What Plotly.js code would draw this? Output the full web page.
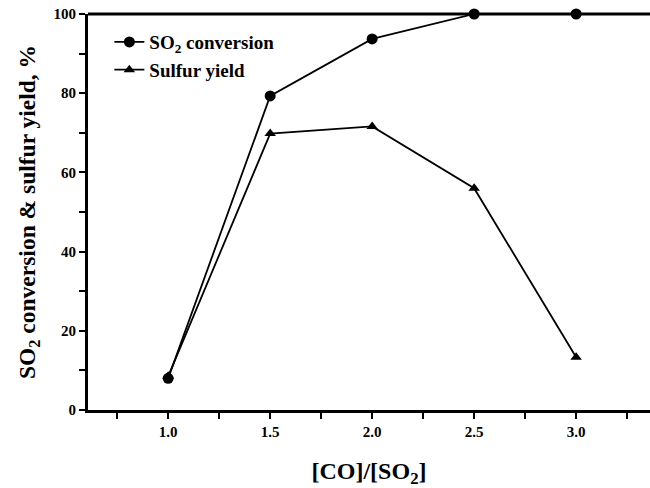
<!DOCTYPE html>
<html>
<head>
<meta charset="utf-8">
<script src="https://cdn.plot.ly/plotly-3.0.1.min.js"></script>
<style>html,body{margin:0;padding:0;background:#fff;}#chart{width:650px;height:488px;}</style>
</head>
<body>
<div id="chart"></div>
<script>
const ratio = [1.0, 1.5, 2.0, 2.5, 3.0];
const so2Conversion = [8.0, 79.3, 93.7, 100, 100];
const sulfurYield = [8.5, 69.8, 71.6, 56.0, 13.3];
const xTicks = [1.0, 1.5, 2.0, 2.5, 3.0];
const xTickText = ['1.0', '1.5', '2.0', '2.5', '3.0'];
const yTicks = [0, 20, 40, 60, 80, 100];

const font = 'Liberation Serif, Times New Roman, serif';

const traces = [
  {
    x: ratio, y: so2Conversion, name: 'SO<sub>2</sub> conversion',
    mode: 'lines+markers', type: 'scatter',
    line: {color: '#000', width: 1.8},
    marker: {symbol: 'circle', size: 11, color: '#000'},
    cliponaxis: false
  },
  {
    x: ratio, y: sulfurYield, name: 'Sulfur yield',
    mode: 'lines+markers', type: 'scatter',
    line: {color: '#000', width: 1.8},
    marker: {symbol: 'triangle-up', size: 10, color: '#000'},
    cliponaxis: false
  }
];

const layout = {
  width: 650, height: 488,
  margin: {l: 88, r: 0, t: 14, b: 78},
  paper_bgcolor: '#fff', plot_bgcolor: '#fff',
  font: {family: font, color: '#000', size: 15, weight: 'bold'},
  showlegend: true,
  legend: {
    x: 0.038, y: 0.977, xanchor: 'left', yanchor: 'top',
    bgcolor: 'rgba(0,0,0,0)', borderwidth: 0,
    font: {family: font, size: 19, color: '#000', weight: 'bold'},
    tracegroupgap: 0
  },
  xaxis: {
    range: [0.607, 3.362],
    tickvals: xTicks, ticktext: xTickText,
    ticks: 'outside', ticklen: 6, tickwidth: 2, tickcolor: '#000',
    minor: {dtick: 0.5, tick0: 0.75, ticks: 'outside', ticklen: 6, tickwidth: 2, tickcolor: '#000'},
    showline: true, linewidth: 3, linecolor: '#000',
    showgrid: false, zeroline: false,
    tickfont: {family: font, size: 15, color: '#000', weight: 'bold'},
    title: {text: '[CO]/[SO<sub>2</sub>]', font: {family: font, size: 24, color: '#000', weight: 'bold'}, standoff: 24}
  },
  yaxis: {
    range: [0, 100],
    tickvals: yTicks,
    ticks: 'outside', ticklen: 6, tickwidth: 2, tickcolor: '#000',
    minor: {dtick: 20, tick0: 10, ticks: 'outside', ticklen: 6, tickwidth: 2, tickcolor: '#000'},
    showline: true, linewidth: 3, linecolor: '#000', mirror: false,
    showgrid: false, zeroline: false,
    tickfont: {family: font, size: 15, color: '#000', weight: 'bold'},
    title: {text: 'SO<sub>2</sub> conversion &amp; sulfur yield, %', font: {family: font, size: 23.5, color: '#000', weight: 'bold'}, standoff: 12}
  },
  shapes: [
    {type: 'line', xref: 'paper', yref: 'paper', x0: 0, x1: 1, y0: 1, y1: 1, line: {color: '#000', width: 3}}
  ]
};

Plotly.newPlot('chart', traces, layout, {displayModeBar: false, staticPlot: true});
</script>
</body>
</html>
